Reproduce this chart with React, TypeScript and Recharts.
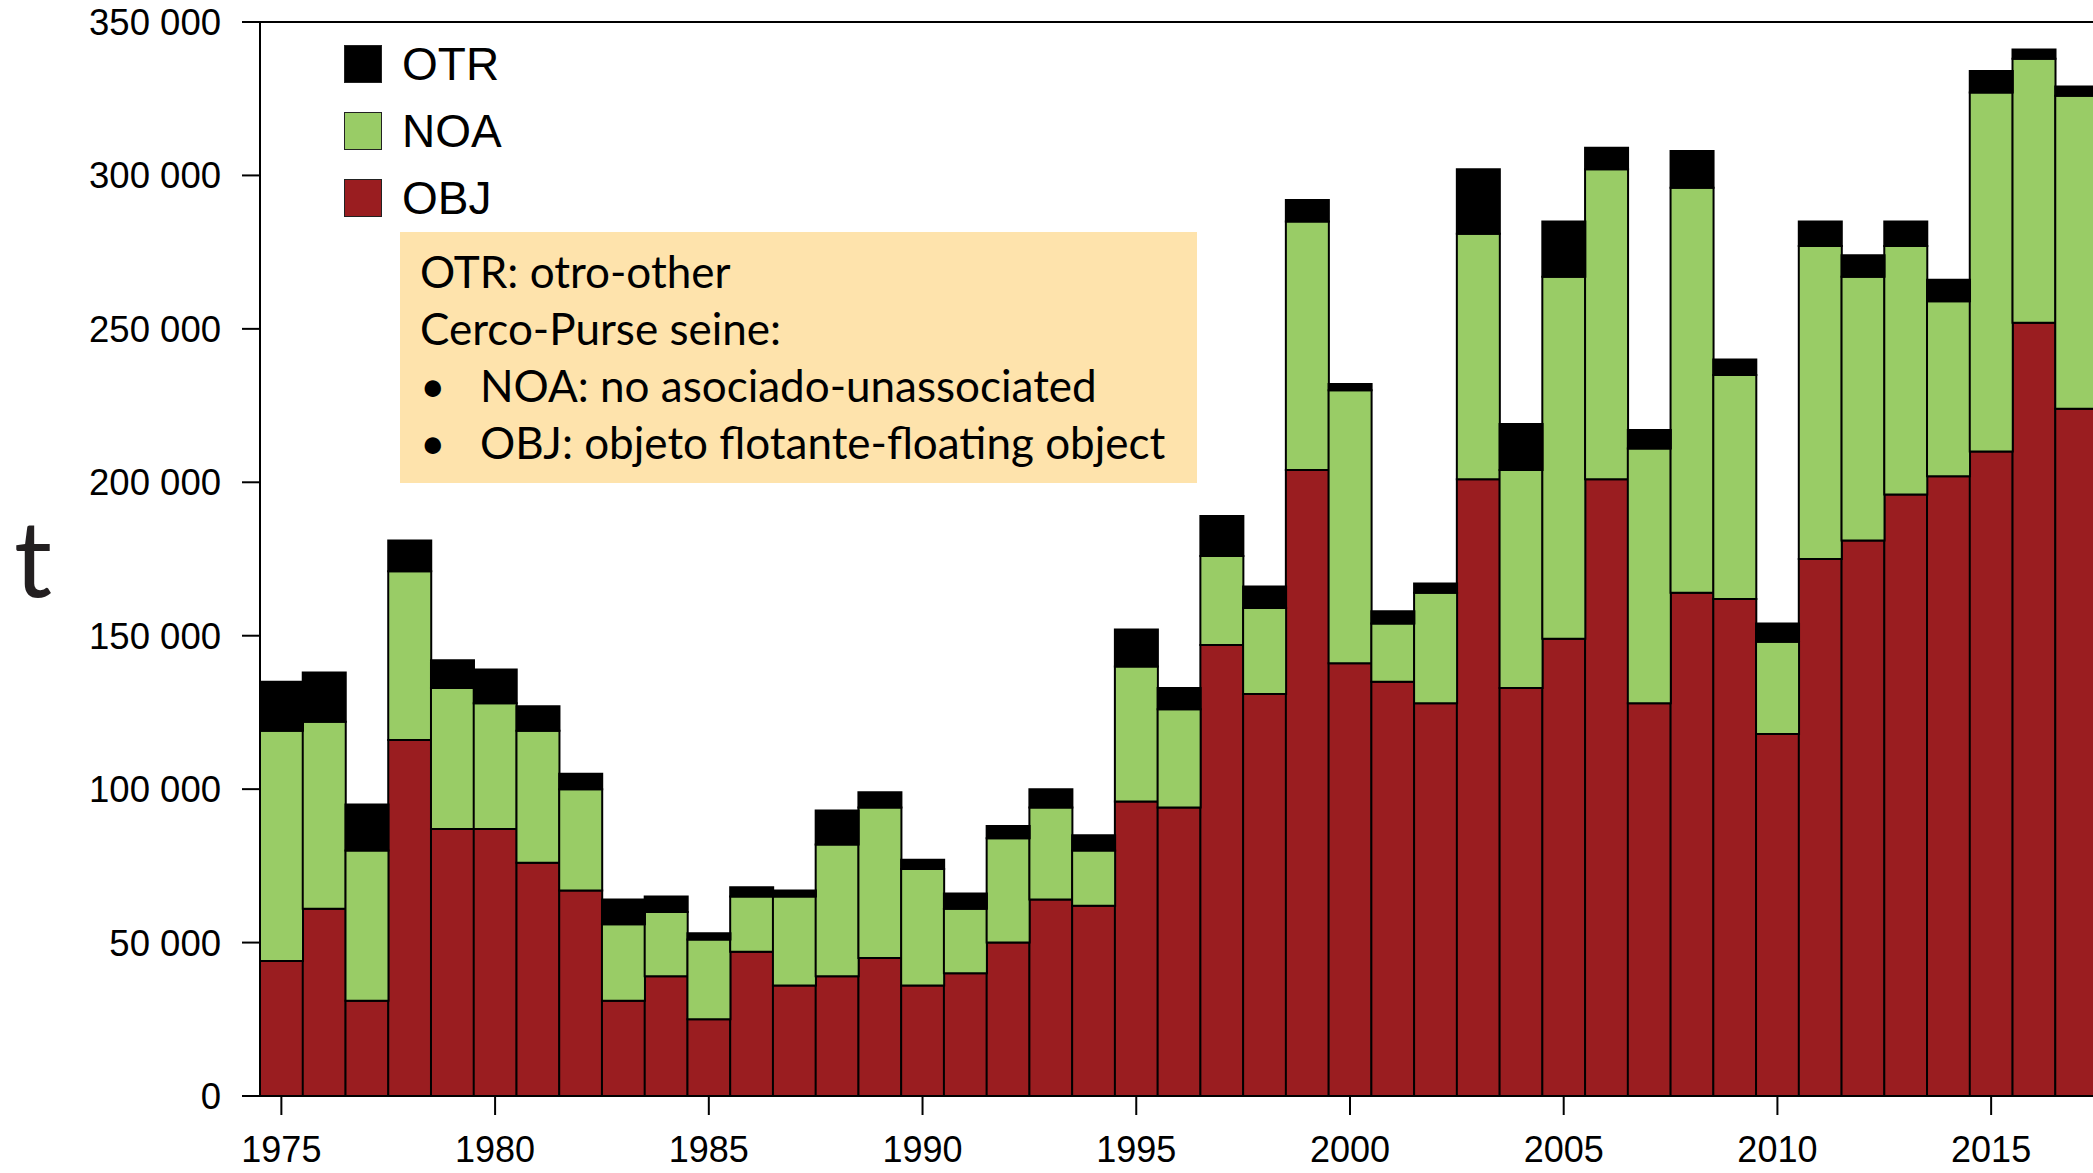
import React from 'react';
import { BarChart, Bar, XAxis, YAxis, Legend, ReferenceLine } from 'recharts';

// captura por año (t)
const years = [
  1975, 1976, 1977, 1978, 1979, 1980, 1981, 1982, 1983, 1984,
  1985, 1986, 1987, 1988, 1989, 1990, 1991, 1992, 1993, 1994,
  1995, 1996, 1997, 1998, 1999, 2000, 2001, 2002, 2003, 2004,
  2005, 2006, 2007, 2008, 2009, 2010, 2011, 2012, 2013, 2014,
  2015, 2016, 2017,
];
const objValues = [
  44000, 61000, 31000, 116000, 87000, 87000, 76000, 67000, 31000, 39000,
  25000, 47000, 36000, 39000, 45000, 36000, 40000, 50000, 64000, 62000,
  96000, 94000, 147000, 131000, 204000, 141000, 135000, 128000, 201000, 133000,
  149000, 201000, 128000, 164000, 162000, 118000, 175000, 181000, 196000, 202000,
  210000, 252000, 224000,
];
const noaValues = [
  75000, 61000, 49000, 55000, 46000, 41000, 43000, 33000, 25000, 21000,
  26000, 18000, 29000, 43000, 49000, 38000, 21000, 34000, 30000, 18000,
  44000, 32000, 29000, 28000, 81000, 89000, 19000, 36000, 80000, 71000,
  118000, 101000, 83000, 132000, 73000, 30000, 102000, 86000, 81000, 57000,
  117000, 86000, 102000,
];
const otrValues = [
  16000, 16000, 15000, 10000, 9000, 11000, 8000, 5000, 8000, 5000,
  2000, 3000, 2000, 11000, 5000, 3000, 5000, 4000, 6000, 5000,
  12000, 7000, 13000, 7000, 7000, 2000, 4000, 3000, 21000, 15000,
  18000, 7000, 6000, 12000, 5000, 6000, 8000, 7000, 8000, 7000,
  7000, 3000, 3000,
];

const yTicks = [0, 50000, 100000, 150000, 200000, 250000, 300000, 350000];
const legendNames = ['OTR', 'NOA', 'OBJ'];
const legendColors = ['#000000', '#99CC66', '#9A1D20'];
const noteLines = ['OTR: otro-other', 'Cerco-Purse seine:'];
const noteBullets = ['NOA: no asociado-unassociated', 'OBJ: objeto flotante-floating object'];

const data = years.map((y, i) => ({
  year: y,
  OBJ: objValues[i],
  NOA: noaValues[i],
  OTR: otrValues[i],
}));

const axisFont = '"Liberation Sans", Arial, sans-serif';

const fmt = (v: number) => (v === 0 ? '0' : `${Math.round(v / 1000)} 000`);

const XTick = (props: any) => {
  const { x, y, payload } = props;
  if (payload.value % 5 !== 0) return <g />;
  return (
    <g>
      <line x1={x} x2={x} y1={y} y2={y + 19} stroke="#000" strokeWidth={2} />
      <text x={x} y={y + 66} textAnchor="middle" fontFamily={axisFont} fontSize={36} fill="#000">
        {payload.value}
      </text>
    </g>
  );
};

const renderLegend = () => (
  <div style={{ fontFamily: axisFont }}>
    {legendNames.map((n, i) => (
      <div key={n} style={{ display: 'flex', alignItems: 'center', height: 67 }}>
        <div
          style={{
            width: 36,
            height: 36,
            background: legendColors[i],
            border: '1.5px solid #222',
            marginRight: 20,
          }}
        />
        <span style={{ fontSize: 46, color: '#000' }}>{n}</span>
      </div>
    ))}
  </div>
);

export default function App() {
  return (
    <div style={{ position: 'absolute', left: 0, top: 0, width: 2093, height: 1173, overflow: 'hidden', background: '#fff' }}>
      <BarChart
        width={2100}
        height={1173}
        data={data}
        margin={{ top: 22, right: 2, bottom: 0, left: 0 }}
        barCategoryGap={0}
        barGap={0}
      >
        <XAxis
          dataKey="year"
          interval={0}
          height={77}
          tickSize={0}
          tickMargin={0}
          tickLine={false}
          tick={<XTick />}
          axisLine={{ stroke: '#000', strokeWidth: 2 }}
        />
        <YAxis
          width={260}
          domain={[0, 350000]}
          ticks={yTicks}
          tickFormatter={fmt}
          tickSize={18}
          tickMargin={21}
          axisLine={{ stroke: '#000', strokeWidth: 2 }}
          tickLine={{ stroke: '#000', strokeWidth: 2 }}
          tick={{ fontFamily: axisFont, fontSize: 36.5, fill: '#000' }}
          label={{ value: 't', position: 'insideLeft', offset: 14, style: { fontFamily: 'Lato, sans-serif', fontSize: 106, fill: '#231f20' } }}
        />
        <ReferenceLine y={350000} stroke="#000" strokeWidth={2} />
        <Legend
          layout="vertical"
          align="center"
          verticalAlign="middle"
          content={renderLegend}
          wrapperStyle={{ left: 344, top: 30, width: 200, height: 210 }}
        />
        <Bar dataKey="OBJ" stackId="a" fill="#9A1D20" stroke="#000" strokeWidth={2} isAnimationActive={false} />
        <Bar dataKey="NOA" stackId="a" fill="#99CC66" stroke="#000" strokeWidth={2} isAnimationActive={false} />
        <Bar dataKey="OTR" stackId="a" fill="#000000" stroke="#000" strokeWidth={2} isAnimationActive={false} />
      </BarChart>
      <div
        style={{
          position: 'absolute',
          left: 400,
          top: 232,
          width: 797,
          height: 251,
          boxSizing: 'border-box',
          background: '#FEE3AC',
          padding: '11px 0 0 20px',
          fontFamily: 'Lato, sans-serif',
          fontSize: 44,
          lineHeight: '57px',
          color: '#000',
        }}
      >
        {noteLines.map((t) => (
          <div key={t}>{t}</div>
        ))}
        {noteBullets.map((t) => (
          <div key={t} style={{ display: 'flex' }}>
            <span style={{ width: 60 }}>•</span>
            <span>{t}</span>
          </div>
        ))}
      </div>
    </div>
  );
}
